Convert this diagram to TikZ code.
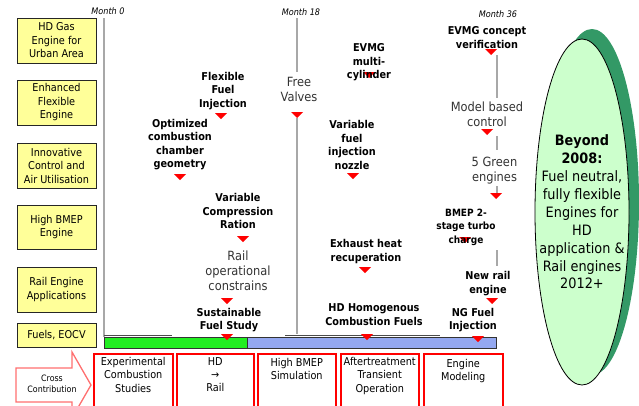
\documentclass[tikz,border=0pt]{standalone}
\usepackage{fontspec}
\setmainfont{DejaVu Sans}[FakeStretch=0.9]
\usetikzlibrary{shapes.geometric}
\definecolor{ybox}{HTML}{FFFF99}
\definecolor{gbar}{HTML}{22EE22}
\definecolor{bbar}{HTML}{94A8F0}
\definecolor{elfill}{HTML}{CCFFCC}
\definecolor{elshadow}{HTML}{339966}
\definecolor{tline}{HTML}{A8A8A8}
\definecolor{arrred}{HTML}{FF6F6F}
\tikzset{
  ylbox/.style={draw=black!85, line width=1pt, fill=ybox, minimum width=79pt, inner sep=1pt,
    align=center, font=\fontsize{10.8}{13.5}\selectfont},
  ms/.style={font=\bfseries\fontsize{10.8}{13.5}\selectfont, align=center, inner sep=0pt},
  msmall/.style={font=\bfseries\fontsize{10}{13.5}\selectfont, align=center, inner sep=0pt},
  mn/.style={font=\fontsize{12.7}{15}\selectfont, align=center, inner sep=0pt, text=black!80},
  month/.style={font=\itshape\fontsize{9}{10}\selectfont, inner sep=0pt},
  tl/.style={draw=tline, line width=1.4pt},
  rbox/.style={draw=red, line width=1.5pt, minimum height=70pt, anchor=north west, inner sep=0pt},
  btext/.style={font=\fontsize{10.8}{13.3}\selectfont, align=center, inner sep=0pt, anchor=north},
  ellbox/.style={ellipse, minimum width=94pt, minimum height=346pt, inner sep=0pt},
  tri/.pic={\fill[red] (-6,0) -- (6,0) -- (0,6) -- cycle;}
}
\begin{document}
\begin{tikzpicture}[x=1pt,y=-1pt]
\useasboundingbox (0,0) rectangle (639,405);
\clip (0,0) rectangle (639,405);

% ellipse with shadow
\node[ellbox, fill=elshadow] (elsh) at (592,202) {};
\node[ellbox, draw=black, line width=0.8pt, fill=elfill] (ell) at (582,212) {};
\node[align=center, inner sep=0pt, font=\fontsize{14.3}{17.9}\selectfont] (elltext) at (ell.center)
  {\textbf{Beyond}\\\textbf{2008:}\\Fuel neutral,\\fully flexible\\Engines for\\HD\\application \&\\Rail engines\\2012+};

% month labels
\node[month] (m0) at (108,11) {Month 0};
\node[month] (m18) at (301,12) {Month 18};
\node[month] (m36) at (498,14) {Month 36};

% yellow boxes
\node[ylbox, minimum height=45pt] (y1) at (56.5,40.5) {HD Gas\\Engine for\\Urban Area};
\node[ylbox, minimum height=45pt] (y2) at (56.5,102.5) {Enhanced\\Flexible\\Engine};
\node[ylbox, minimum height=45pt] (y3) at (56.5,165.5) {Innovative\\Control and\\Air Utilisation};
\node[ylbox, minimum height=44pt] (y4) at (56.5,227) {High BMEP\\Engine};
\node[ylbox, minimum height=45pt] (y5) at (56.5,289.5) {Rail Engine\\Applications};
\node[ylbox, minimum height=24pt] (y6) at (56.5,335) {Fuels, EOCV};

% timeline lines
\coordinate (l0a) at (104,18); \coordinate (l0b) at (104,337);
\draw[tl] (l0a) -- (l0b);
\coordinate (l18a) at (297,18); \coordinate (l18b) at (297,72);
\coordinate (l18c) at (297,118); \coordinate (l18d) at (297,334);
\draw[tl] (l18a) -- (l18b);
\draw[tl] (l18c) -- (l18d);
\coordinate (l36a) at (497,55); \coordinate (l36b) at (497,98);
\coordinate (l36c) at (497,136); \coordinate (l36d) at (497,150);
\coordinate (l36e) at (497,186); \coordinate (l36f) at (497,194);
\coordinate (l36g) at (497,250); \coordinate (l36h) at (497,266);
\draw[tl] (l36a) -- (l36b);
\draw[tl] (l36c) -- (l36d);
\draw[tl] (l36e) -- (l36f);
\draw[tl] (l36g) -- (l36h);

% bar
\node[draw=black!80, line width=0.8pt, fill=gbar, minimum width=143pt, minimum height=11pt, anchor=north west, inner sep=0pt] (gb) at (104,337) {};
\node[draw=black!80, line width=0.8pt, fill=bbar, minimum width=249pt, minimum height=11pt, anchor=north west, inner sep=0pt] (bb) at (247,337) {};
\coordinate (s1a) at (104,335.5); \coordinate (s1b) at (172,335.5);
\coordinate (s2a) at (285,335.5); \coordinate (s2b) at (440,335.5);
\draw[black!70, line width=0.6pt] (s1a) -- (s1b);
\draw[black!70, line width=0.6pt] (s2a) -- (s2b);

% triangles
\pic at (221,113) {tri};
\pic at (180,174) {tri};
\pic at (297,112) {tri};
\pic at (369,72) {tri};
\pic at (353,173) {tri};
\pic at (243,236) {tri};
\pic at (227,298) {tri};
\pic at (227,334) {tri};
\pic at (365,267) {tri};
\pic at (367,334) {tri};
\pic at (491,49) {tri};
\pic at (487,129) {tri};
\pic at (496,193) {tri};
\pic at (465,237) {tri};
\pic at (492,298) {tri};
\pic at (478,336) {tri};

% milestone texts
\node[ms] (t1) at (223,91) {Flexible\\Fuel\\Injection};
\node[ms] (t2) at (180,144.5) {Optimized\\combustion\\chamber\\geometry};
\node[mn] (t3) at (299,89.5) {Free\\Valves};
\node[ms] (t4) at (369,62.5) {EVMG\\multi-\\cylinder};
\node[ms] (t5) at (352,145) {Variable\\fuel\\injection\\nozzle};
\node[ms] (t6) at (238,211) {Variable\\Compression\\Ration};
\node[mn] (t7) at (238,271) {Rail\\operational\\constrains};
\node[ms] (t8) at (229,320) {Sustainable\\Fuel Study};
\node[ms] (t9) at (366,251.5) {Exhaust heat\\recuperation};
\node[ms] (t10) at (374,314.5) {HD Homogenous\\Combustion Fuels};
\node[ms] (t11) at (487,37.5) {EVMG concept\\verification};
\node[mn] (t12) at (487,114.5) {Model based\\control};
\node[mn] (t13) at (494.5,171) {5 Green\\engines};
\node[msmall] (t14) at (466,227) {BMEP 2-\\stage turbo\\charge};
\node[ms] (t15) at (488,283.5) {New rail\\engine};
\node[ms] (t16) at (473,320) {NG Fuel\\Injection};

% cross contribution arrow
\draw[draw=arrred, line width=1.3pt, fill=white] (16,368) -- (72,368) -- (72,352) -- (91,385) -- (72,418) -- (72,402) -- (16,402) -- cycle;
\node[font=\fontsize{8.8}{11}\selectfont, align=center, inner sep=0pt] (cc) at (52,384) {Cross\\Contribution};

% bottom boxes
\node[rbox, minimum width=79pt] (b1) at (93,353) {};
\node[rbox, minimum width=77pt] (b2) at (176,353) {};
\node[rbox, minimum width=78pt] (b3) at (257,353) {};
\node[rbox, minimum width=78pt] (b4) at (340,353) {};
\node[rbox, minimum width=79pt] (b5) at (423,353) {};
\node[btext] (bt1) at ([yshift=-4pt]b1.north) {Experimental\\Combustion\\Studies};
\node[btext] (bt2) at ([yshift=-4pt]b2.north) {HD\\→\\Rail};
\node[btext] (bt3) at ([yshift=-5pt]b3.north) {High BMEP\\Simulation};
\node[btext] (bt4) at ([yshift=-4pt]b4.north) {Aftertreatment\\Transient\\Operation};
\node[btext] (bt5) at ([yshift=-6pt]b5.north) {Engine\\Modeling};
\end{tikzpicture}
\end{document}
